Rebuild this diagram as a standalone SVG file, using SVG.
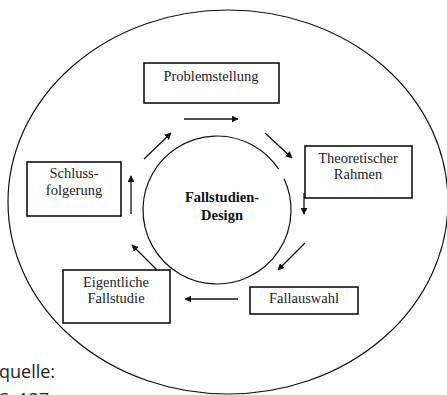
<svg xmlns="http://www.w3.org/2000/svg" width="447" height="395" viewBox="0 0 447 395">
  <style>
    .box { fill: #fff; stroke: #111; stroke-width: 1.6; }
    .lbl { font-family: "Liberation Serif", "Times New Roman", serif; font-size: 14.5px; fill: #222; text-anchor: middle; }
    .core { font-family: "Liberation Serif", "Times New Roman", serif; font-size: 14.5px; font-weight: bold; fill: #111; text-anchor: middle; }
    .edge { stroke: #111; stroke-width: 1.3; fill: none; marker-end: url(#head); }
    .note { font-family: "Open Sans", "Noto Sans", sans-serif; font-size: 18px; fill: #222; }
  </style>
  <defs>
    <marker id="head" viewBox="0 0 10 10" refX="9" refY="5" markerWidth="7" markerHeight="7" markerUnits="userSpaceOnUse" orient="auto">
      <path d="M0,0 L10,5 L0,10 Z" fill="#111"/>
    </marker>
  </defs>
  <rect width="447" height="395" fill="#fff"/>

  <!-- outer boundary -->
  <ellipse cx="228" cy="202" rx="220" ry="192" fill="none" stroke="#111" stroke-width="1.2"/>

  <!-- central circle with its small opening on the upper right -->
  <g id="center">
    <path d="M284.07,178.73 A74,74 0 1 1 278.71,169.16" fill="none" stroke="#111" stroke-width="1.2"/>
    <text class="core" x="222" y="202">Fallstudien-</text>
    <text class="core" x="222" y="220">Design</text>
  </g>

  <g id="problemstellung">
    <rect class="box" x="144" y="63" width="135" height="40"/>
    <text class="lbl" x="211" y="81">Problemstellung</text>
  </g>

  <g id="theoretischer-rahmen">
    <rect class="box" x="305" y="146" width="107" height="52"/>
    <text class="lbl" x="358" y="163">Theoretischer</text>
    <text class="lbl" x="358" y="179">Rahmen</text>
  </g>

  <g id="fallauswahl">
    <rect class="box" x="250" y="287" width="108" height="27"/>
    <text class="lbl" x="304" y="303">Fallauswahl</text>
  </g>

  <g id="eigentliche-fallstudie">
    <rect class="box" x="63" y="270" width="107" height="53"/>
    <text class="lbl" x="116" y="287">Eigentliche</text>
    <text class="lbl" x="116" y="303">Fallstudie</text>
  </g>

  <g id="schlussfolgerung">
    <rect class="box" x="27" y="162" width="94" height="54"/>
    <text class="lbl" x="74" y="178">Schluss-</text>
    <text class="lbl" x="74" y="195">folgerung</text>
  </g>

  <!-- cycle connectors -->
  <g id="connectors">
    <line class="edge" x1="184" y1="119" x2="238" y2="119"/>
    <line class="edge" x1="265" y1="133" x2="292" y2="158"/>
    <line class="edge" x1="304" y1="193" x2="304" y2="214"/>
    <line class="edge" x1="305" y1="243" x2="278" y2="270"/>
    <line class="edge" x1="238" y1="299" x2="185" y2="299"/>
    <line class="edge" x1="157" y1="270" x2="132" y2="245"/>
    <line class="edge" x1="131" y1="214" x2="131" y2="176"/>
    <line class="edge" x1="144" y1="159" x2="171" y2="133"/>
  </g>

  <!-- source note -->
  <text class="note" x="-1" y="378">quelle:</text>
  <text class="note" x="-1" y="406">S. 137</text>
</svg>
